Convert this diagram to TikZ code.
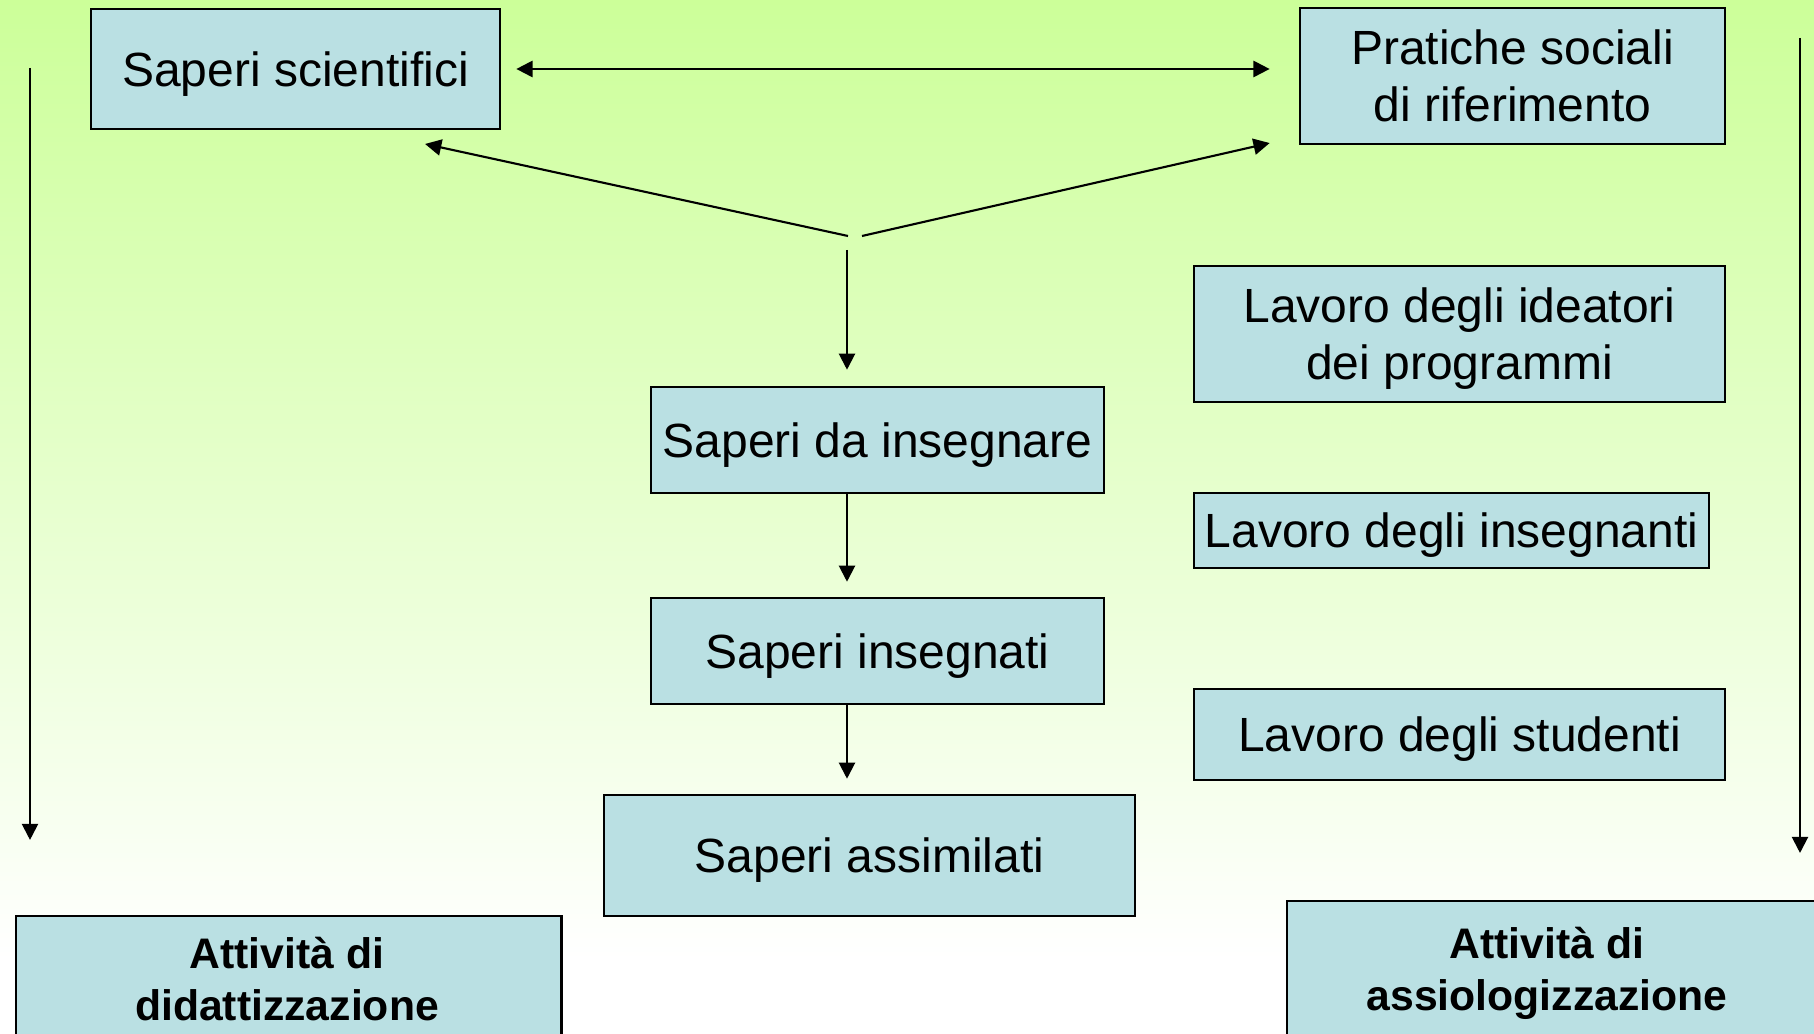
\documentclass[tikz,border=0pt]{standalone}
\usepackage{fontspec}
\setmainfont{Liberation Sans}
\usetikzlibrary{arrows.meta}
\definecolor{bgtop}{RGB}{204,255,153}
\definecolor{boxc}{RGB}{186,224,227}
\tikzset{
  boxnode/.style={draw=black, fill=boxc, line width=0.7pt, inner sep=0pt, align=center,
    font=\fontsize{13.65}{16.1}\selectfont, text height=9.8pt, text depth=0pt},
  twoline/.style={text height=25.9pt},
  boldtxt/.style={inner sep=0pt, align=center, anchor=base,
    font=\fontsize{12.15}{14.8}\selectfont\bfseries},
  arr/.style={line width=0.6pt, -{Triangle[width=4.6pt,length=4.6pt]}},
  darr/.style={line width=0.6pt, {Triangle[width=4.6pt,length=4.6pt]}-{Triangle[width=4.6pt,length=4.6pt]}}
}
\begin{document}
\begin{tikzpicture}[x=0.01cm, y=-0.01cm]
\useasboundingbox (0,0) rectangle (1814,1034);
\clip (0,0) rectangle (1814,1034);
\fill[white] (0cm,-10.34cm) rectangle (18.14cm,0cm);
\shade[top color=bgtop, bottom color=white] (0cm,-9.6cm) rectangle (18.14cm,0cm);

% boxes
\node[boxnode, minimum width=40.9mm, minimum height=12mm] (sci) at (295.5,69) {Saperi scientifici};
\node[boxnode, twoline, minimum width=42.5mm, minimum height=13.6mm] (prat) at (1512.5,76) {Pratiche sociali\\ di riferimento};
\node[boxnode, twoline, minimum width=53.1mm, minimum height=13.6mm] (ide) at (1459.5,334) {Lavoro degli ideatori\\dei programmi};
\node[boxnode, minimum width=45.3mm, minimum height=10.6mm] (dain) at (877.5,440) {Saperi da insegnare};
\node[boxnode, minimum width=51.5mm, minimum height=7.5mm] (lins) at (1451.5,530.5) {Lavoro degli insegnanti};
\node[boxnode, minimum width=45.3mm, minimum height=10.6mm] (ins) at (877.5,651) {Saperi insegnati};
\node[boxnode, minimum width=53.1mm, minimum height=9.1mm] (lstu) at (1459.5,734.5) {Lavoro degli studenti};
\node[boxnode, minimum width=53.1mm, minimum height=12.1mm] (ass) at (869.5,855.5) {Saperi assimilati};
\node[boxnode, minimum width=54.55mm, minimum height=14mm, anchor=north west] (did) at (14.5,915) {};
\node[boldtxt] (didtxt) at (287,1020.5) {Attività di\\didattizzazione};
\node[boxnode, minimum width=60mm, minimum height=16mm, anchor=north west] (asl) at (1286,900) {};
\node[boldtxt] (asltxt) at (1547,1011) {Attività di\\assiologizzazione};

% junction coordinates
\coordinate (jl) at (848,236);
\coordinate (jr) at (862,236);
\coordinate (jd) at (847,250);
\coordinate (lt) at (30,68);
\coordinate (rt) at (1800,38);

% connectors
\draw[darr, shorten <=0.15cm, shorten >=0.29cm] (sci.east) -- (sci.east -| prat.west);
\draw[arr, shorten >=0.645cm] (jl) -- ([xshift=0.665cm]sci.south);
\draw[arr, shorten >=0.297cm] (jr) -- ([yshift=-0.604cm]prat.west);
\draw[arr, shorten >=0.16cm] (jd) -- (jd |- dain.north);
\draw[arr, shorten >=0.15cm] (jd |- dain.south) -- (jd |- ins.north);
\draw[arr, shorten >=0.15cm] (jd |- ins.south) -- (jd |- ass.north);
\draw[arr, shorten >=0.75cm] (lt) -- (lt |- did.north);
\draw[arr, shorten >=0.47cm] (rt) -- (rt |- asl.north);
\end{tikzpicture}
\end{document}
